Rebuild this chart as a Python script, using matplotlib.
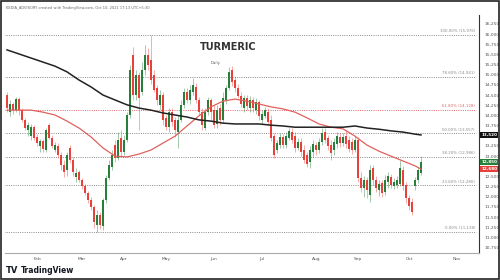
import matplotlib
matplotlib.use("Agg")
import matplotlib.pyplot as plt
import numpy as np
from matplotlib.patches import Rectangle

# daily candles, Feb - early Oct
opens = [14500, 14080, 14280, 14130, 14400, 14130, 13890, 13640, 13490, 13710,
         13470, 13250, 13370, 13150, 13760, 13440, 13150, 13250, 13030, 12780,
         12660, 13200, 12900, 12490, 12610, 12410, 12270, 12090, 11920, 11750,
         11310, 11550, 11280, 11920, 12460, 12730, 13270, 12950, 13440, 13100,
         13400, 14010, 15480, 14500, 14990, 14580, 15120, 15480, 15360, 14990,
         14670, 14260, 14500, 13940, 13710, 14080, 13890, 13590, 13890, 14260,
         14580, 14380, 14580, 14700, 14380, 14080, 13690, 14080, 14380, 14130,
         13790, 14180, 13890, 14380, 14670, 15120, 14870, 14670, 14480, 14180,
         14430, 14180, 14380, 14130, 14330, 13890, 13990, 14080, 13890, 13490,
         13150, 13270, 13470, 13270, 13440, 13590, 13490, 13200, 13350, 13150,
         13030, 12850, 13100, 13270, 13150, 13350, 13590, 13440, 13270, 13150,
         13300, 13470, 13320, 13490, 13400, 13350, 13150, 13400, 12460, 12220,
         12410, 12040, 12710, 12410, 12170, 12340, 12120, 12360, 12490, 12270,
         12290, 12310, 12660, 12290, 11970, 11870, 12270, 12410, 12580]
highs = [14570, 14380, 14330, 14450, 14450, 14180, 13940, 13840, 13790, 13760,
         13540, 13420, 13420, 13690, 13810, 13520, 13350, 13320, 13100, 12900,
         13100, 13270, 12980, 12710, 12660, 12460, 12310, 12140, 11990, 11800,
         11680, 11630, 11970, 12540, 12900, 13150, 13400, 13590, 13640, 13520,
         14080, 15240, 15680, 15120, 15070, 15310, 15730, 15660, 15976, 15120,
         14750, 14620, 14580, 14010, 14180, 14180, 13960, 14010, 14380, 14670,
         14670, 14750, 14920, 14800, 14450, 14180, 14180, 14450, 14430, 14260,
         14260, 14280, 14580, 14750, 15190, 15210, 14970, 14770, 14580, 14500,
         14500, 14480, 14450, 14430, 14380, 14130, 14210, 14180, 14010, 13570,
         13400, 13570, 13540, 13590, 13690, 13690, 13590, 13440, 13440, 13270,
         13100, 13250, 13400, 13350, 13440, 13690, 13690, 13520, 13400, 13440,
         13590, 13570, 13570, 13640, 13490, 13440, 13490, 13470, 12610, 12510,
         12490, 12780, 12780, 12510, 12410, 12410, 12540, 12610, 12560, 12460,
         12510, 12900, 12760, 12360, 12040, 11970, 12490, 12730, 13000]
lows = [14080, 13990, 14030, 14080, 14010, 13840, 13640, 13490, 13400, 13400,
        13250, 13100, 13100, 13100, 13420, 13200, 13100, 12950, 12660, 12490,
        12510, 12830, 12510, 12360, 12360, 12190, 12040, 11850, 11680, 11230,
        11130, 11210, 11180, 11850, 12410, 12660, 12850, 12900, 13000, 13030,
        13350, 13940, 14380, 14380, 13640, 14500, 14990, 15120, 14770, 14580,
        14260, 14130, 13760, 13640, 13590, 13740, 13470, 13200, 13840, 14180,
        14300, 14280, 14500, 14300, 14010, 13640, 13640, 14010, 13890, 13690,
        13690, 13760, 13840, 14280, 14620, 14720, 14580, 14430, 14210, 14080,
        14130, 14080, 14080, 14030, 13890, 13790, 13940, 13760, 13370, 12950,
        13080, 13200, 13200, 13200, 13400, 13320, 13100, 13150, 13000, 12830,
        12730, 12710, 12980, 13030, 13080, 13270, 13320, 13150, 12900, 13030,
        13200, 13220, 13250, 13200, 13100, 13050, 13100, 12360, 12120, 11990,
        11970, 11870, 12290, 12120, 12020, 11990, 12040, 12220, 12220, 12190,
        12220, 12270, 12170, 11850, 11680, 11550, 12170, 12340, 12540]
closes = [14180, 14280, 14130, 14400, 14130, 13890, 13690, 13760, 13710, 13440,
          13320, 13370, 13170, 13640, 13440, 13250, 13270, 13030, 12780, 12610,
          13030, 12900, 12610, 12590, 12410, 12270, 12090, 11920, 11750, 11380,
          11550, 11310, 11920, 12460, 12780, 13030, 12950, 13400, 13100, 13400,
          14010, 15120, 14500, 14990, 14430, 15120, 15480, 15240, 14870, 14620,
          14380, 14500, 13890, 13710, 14080, 13840, 13640, 13890, 14260, 14580,
          14380, 14620, 14750, 14380, 14080, 13760, 14080, 14380, 14080, 13760,
          14130, 13890, 14430, 14670, 15070, 14820, 14670, 14480, 14280, 14430,
          14230, 14380, 14180, 14330, 13990, 14030, 14130, 13840, 13440, 13030,
          13320, 13470, 13270, 13490, 13620, 13400, 13200, 13350, 13100, 12900,
          12810, 13150, 13300, 13150, 13350, 13570, 13400, 13250, 13080, 13350,
          13490, 13320, 13470, 13300, 13170, 13150, 13400, 12460, 12220, 12410,
          12170, 12660, 12410, 12220, 12310, 12090, 12410, 12510, 12290, 12360,
          12410, 12710, 12270, 11970, 11770, 11630, 12410, 12660, 12850]

# moving averages read every 4 bars
ma_idx = [0, 4, 8, 12, 16, 20, 24, 28, 32, 36, 40, 44, 48, 52, 56, 60, 64, 68,
          72, 76, 80, 84, 88, 92, 96, 100, 104, 108, 112, 116, 120, 124, 128,
          132, 136, 138]
sma50 = [14130, 14130, 14130, 14080, 14010, 13860, 13690, 13470, 13200, 13000,
         12980, 13050, 13150, 13320, 13490, 13740, 13990, 14210, 14350, 14400,
         14350, 14280, 14210, 14160, 14080, 13940, 13790, 13710, 13670, 13490,
         13270, 13120, 13000, 12880, 12760, 12680]
sma200 = [15610, 15510, 15410, 15310, 15210, 15070, 14870, 14700, 14500, 14380,
          14260, 14180, 14130, 14060, 14010, 13960, 13890, 13860, 13810, 13790,
          13790, 13790, 13760, 13740, 13710, 13710, 13710, 13710, 13710, 13740,
          13690, 13660, 13620, 13590, 13540, 13520]

fib_names = ["100.00%", "78.60%", "61.80%", "50.00%", "38.20%", "23.60%", "0.00%"]
fib_prices = [15976, 14941, 14128, 13557, 12986, 12280, 11138]

months = ["Feb", "Mar", "Apr", "May", "Jun", "Jul", "Aug", "Sep", "Oct", "Nov"]
month_pos = [10, 25, 39, 53, 69, 85, 103, 117, 134, 150]

# price scale labels (13,500 and 12,750 are hidden behind the value tags)
price_ticks = [10750, 11000, 11250, 11500, 11750, 12000, 12250, 12500, 13000,
               13250, 13750, 14000, 14250, 14500, 14750, 15000, 15250, 15500,
               15750, 16000, 16250]

green = "#26803a"
red = "#e8413c"

fig = plt.figure(figsize=(5, 2.8), dpi=100)
ax = fig.add_axes([0.01, 0.0964, 0.948, 0.85])

x = np.arange(len(closes))
o = np.array(opens)
c = np.array(closes)
up = c >= o
cols = np.where(up, green, red)

ax.vlines(x, lows, highs, colors=cols, lw=0.6, alpha=0.5, zorder=2)
ax.bar(x, np.abs(c - o), bottom=np.minimum(o, c), width=0.7, color=cols,
       linewidth=0, zorder=3)

ax.plot(ma_idx, sma50, color="#e0605c", lw=0.9, zorder=4)
ax.plot(ma_idx, sma200, color="#222222", lw=1.1, zorder=4)

# fibonacci levels
for name, p in zip(fib_names, fib_prices):
    col = "#e06666" if name == "61.80%" else "#8a8a8a"
    ax.hlines(p, -1, 156.3, colors=col, linestyles=(0, (1, 1.3)), lw=0.7, zorder=1)
    ax.text(156, p + 45, f"{name} ({p:,})", ha="right", va="bottom",
            fontsize=2.8, color=col)

ax.set_xlim(-0.67, 157.33)
ax.set_ylim(10619, 16467)

ax.set_xticks(month_pos)
ax.set_xticklabels(months)
ax.set_yticks(price_ticks)
ax.yaxis.set_major_formatter(matplotlib.ticker.FuncFormatter(lambda v, _: f"{int(v):,}"))
ax.yaxis.tick_right()
ax.tick_params(axis="both", length=0, labelsize=3.2, colors="#555555")
ax.tick_params(axis="y", pad=4)
ax.tick_params(axis="x", pad=3)

for s in ["left", "top"]:
    ax.spines[s].set_visible(False)
ax.spines["right"].set_color("#333333")
ax.spines["right"].set_linewidth(0.8)
ax.spines["bottom"].set_color("#aaaaaa")
ax.spines["bottom"].set_linewidth(0.8)

# value tags on the right scale
tags = [(sma200[-1], "#111111"), (closes[-1], green), (sma50[-1], red)]
for val, bg in tags:
    ax.annotate(f"{val:,}", xy=(1.005, val), xycoords=("axes fraction", "data"),
                fontsize=3.0, color="white", fontweight="bold", va="center", ha="left",
                bbox=dict(boxstyle="square,pad=0.25", fc=bg, ec="none"))

ax.text(0.47, 0.865, "TURMERIC", transform=ax.transAxes, ha="center", va="center",
        fontsize=7, color="#333333", fontweight="bold")
ax.text(0.445, 0.80, "Daily", transform=ax.transAxes, ha="center", va="center",
        fontsize=2.8, color="#555555")

fig.text(0.012, 0.972, "KEDIA_ADVISORY created with TradingView.com, Oct 10, 2021 17:13 UTC+5:30",
         fontsize=2.6, color="#666666", va="center")
fig.text(0.012, 0.035, "TV", fontsize=6, fontweight="heavy", color="#131722", va="center")
fig.text(0.042, 0.035, "TradingView", fontsize=5.5, fontweight="bold", color="#131722", va="center")

fig.patches.append(Rectangle((0.002, 0.003), 0.996, 0.994, transform=fig.transFigure,
                             fill=False, ec="#222222", lw=1.2))

fig.savefig("out.png", dpi=100)
